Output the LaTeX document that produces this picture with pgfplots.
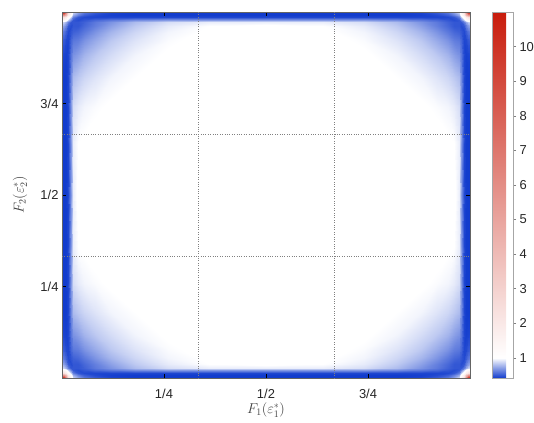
\documentclass[border=0pt]{standalone}
\usepackage{fontspec}
\setmainfont{Liberation Sans}
\usepackage{pgfplots}
\usepackage{pgfplotstable}
\pgfplotsset{compat=1.18}
\definecolor{tickgray}{RGB}{38,38,38}
\definecolor{framegray}{RGB}{100,100,100}
% one quadrant of the (symmetric) density; x, y = distance from the corner, xr = 1-x, yr = 1-y
\pgfplotstableread{
x xr y yr c
0 1 0 1 11
0.004 0.996 0 1 10
0.009 0.991 0 1 6
0.015 0.985 0 1 2.5
0.021 0.979 0 1 1.4
0.028 0.972 0 1 0.9
0.038 0.962 0 1 0.75
0.055 0.945 0 1 0.62
0.08 0.92 0 1 0.52
0.12 0.88 0 1 0.45
0.18 0.82 0 1 0.42
0.26 0.74 0 1 0.42
0.36 0.64 0 1 0.42
0.5 0.5 0 1 0.42

0 1 0.004 0.996 10
0.004 0.996 0.004 0.996 9
0.009 0.991 0.004 0.996 5.5
0.015 0.985 0.004 0.996 2.3
0.021 0.979 0.004 0.996 1.3
0.028 0.972 0.004 0.996 0.85
0.038 0.962 0.004 0.996 0.7
0.055 0.945 0.004 0.996 0.58
0.08 0.92 0.004 0.996 0.5
0.12 0.88 0.004 0.996 0.44
0.18 0.82 0.004 0.996 0.42
0.26 0.74 0.004 0.996 0.42
0.36 0.64 0.004 0.996 0.42
0.5 0.5 0.004 0.996 0.42

0 1 0.009 0.991 6
0.004 0.996 0.009 0.991 5.5
0.009 0.991 0.009 0.991 4
0.015 0.985 0.009 0.991 1.8
0.021 0.979 0.009 0.991 1.1
0.028 0.972 0.009 0.991 0.75
0.038 0.962 0.009 0.991 0.62
0.055 0.945 0.009 0.991 0.52
0.08 0.92 0.009 0.991 0.46
0.12 0.88 0.009 0.991 0.43
0.18 0.82 0.009 0.991 0.42
0.26 0.74 0.009 0.991 0.42
0.36 0.64 0.009 0.991 0.42
0.5 0.5 0.009 0.991 0.42

0 1 0.015 0.985 2.5
0.004 0.996 0.015 0.985 2.3
0.009 0.991 0.015 0.985 1.8
0.015 0.985 0.015 0.985 1.2
0.021 0.979 0.015 0.985 0.85
0.028 0.972 0.015 0.985 0.62
0.038 0.962 0.015 0.985 0.5
0.055 0.945 0.015 0.985 0.46
0.08 0.92 0.015 0.985 0.45
0.12 0.88 0.015 0.985 0.45
0.18 0.82 0.015 0.985 0.45
0.26 0.74 0.015 0.985 0.45
0.36 0.64 0.015 0.985 0.45
0.5 0.5 0.015 0.985 0.45

0 1 0.021 0.979 1.4
0.004 0.996 0.021 0.979 1.3
0.009 0.991 0.021 0.979 1.1
0.015 0.985 0.021 0.979 0.85
0.021 0.979 0.021 0.979 0.62
0.028 0.972 0.021 0.979 0.5
0.038 0.962 0.021 0.979 0.47
0.055 0.945 0.021 0.979 0.5
0.08 0.92 0.021 0.979 0.55
0.12 0.88 0.021 0.979 0.6
0.18 0.82 0.021 0.979 0.66
0.26 0.74 0.021 0.979 0.7
0.36 0.64 0.021 0.979 0.7
0.5 0.5 0.021 0.979 0.7

0 1 0.028 0.972 0.9
0.004 0.996 0.028 0.972 0.85
0.009 0.991 0.028 0.972 0.75
0.015 0.985 0.028 0.972 0.62
0.021 0.979 0.028 0.972 0.5
0.028 0.972 0.028 0.972 0.5
0.038 0.962 0.028 0.972 0.5
0.055 0.945 0.028 0.972 0.53
0.08 0.92 0.028 0.972 0.6
0.12 0.88 0.028 0.972 0.68
0.18 0.82 0.028 0.972 0.8
0.26 0.74 0.028 0.972 0.9
0.36 0.64 0.028 0.972 0.95
0.5 0.5 0.028 0.972 0.95

0 1 0.038 0.962 0.75
0.004 0.996 0.038 0.962 0.7
0.009 0.991 0.038 0.962 0.62
0.015 0.985 0.038 0.962 0.5
0.021 0.979 0.038 0.962 0.47
0.028 0.972 0.038 0.962 0.5
0.038 0.962 0.038 0.962 0.5
0.055 0.945 0.038 0.962 0.55
0.08 0.92 0.038 0.962 0.62
0.12 0.88 0.038 0.962 0.72
0.18 0.82 0.038 0.962 0.84
0.26 0.74 0.038 0.962 0.94
0.36 0.64 0.038 0.962 1.0
0.5 0.5 0.038 0.962 1.02

0 1 0.055 0.945 0.62
0.004 0.996 0.055 0.945 0.58
0.009 0.991 0.055 0.945 0.52
0.015 0.985 0.055 0.945 0.46
0.021 0.979 0.055 0.945 0.5
0.028 0.972 0.055 0.945 0.53
0.038 0.962 0.055 0.945 0.55
0.055 0.945 0.055 0.945 0.6
0.08 0.92 0.055 0.945 0.68
0.12 0.88 0.055 0.945 0.78
0.18 0.82 0.055 0.945 0.88
0.26 0.74 0.055 0.945 0.97
0.36 0.64 0.055 0.945 1.01
0.5 0.5 0.055 0.945 1.02

0 1 0.08 0.92 0.52
0.004 0.996 0.08 0.92 0.5
0.009 0.991 0.08 0.92 0.46
0.015 0.985 0.08 0.92 0.45
0.021 0.979 0.08 0.92 0.55
0.028 0.972 0.08 0.92 0.6
0.038 0.962 0.08 0.92 0.62
0.055 0.945 0.08 0.92 0.68
0.08 0.92 0.08 0.92 0.75
0.12 0.88 0.08 0.92 0.84
0.18 0.82 0.08 0.92 0.92
0.26 0.74 0.08 0.92 0.99
0.36 0.64 0.08 0.92 1.02
0.5 0.5 0.08 0.92 1.02

0 1 0.12 0.88 0.45
0.004 0.996 0.12 0.88 0.44
0.009 0.991 0.12 0.88 0.43
0.015 0.985 0.12 0.88 0.45
0.021 0.979 0.12 0.88 0.6
0.028 0.972 0.12 0.88 0.68
0.038 0.962 0.12 0.88 0.72
0.055 0.945 0.12 0.88 0.78
0.08 0.92 0.12 0.88 0.84
0.12 0.88 0.12 0.88 0.9
0.18 0.82 0.12 0.88 0.97
0.26 0.74 0.12 0.88 1.01
0.36 0.64 0.12 0.88 1.02
0.5 0.5 0.12 0.88 1.02

0 1 0.18 0.82 0.42
0.004 0.996 0.18 0.82 0.42
0.009 0.991 0.18 0.82 0.42
0.015 0.985 0.18 0.82 0.45
0.021 0.979 0.18 0.82 0.66
0.028 0.972 0.18 0.82 0.8
0.038 0.962 0.18 0.82 0.84
0.055 0.945 0.18 0.82 0.88
0.08 0.92 0.18 0.82 0.92
0.12 0.88 0.18 0.82 0.97
0.18 0.82 0.18 0.82 1.0
0.26 0.74 0.18 0.82 1.02
0.36 0.64 0.18 0.82 1.02
0.5 0.5 0.18 0.82 1.02

0 1 0.26 0.74 0.42
0.004 0.996 0.26 0.74 0.42
0.009 0.991 0.26 0.74 0.42
0.015 0.985 0.26 0.74 0.45
0.021 0.979 0.26 0.74 0.7
0.028 0.972 0.26 0.74 0.9
0.038 0.962 0.26 0.74 0.94
0.055 0.945 0.26 0.74 0.97
0.08 0.92 0.26 0.74 0.99
0.12 0.88 0.26 0.74 1.01
0.18 0.82 0.26 0.74 1.02
0.26 0.74 0.26 0.74 1.02
0.36 0.64 0.26 0.74 1.02
0.5 0.5 0.26 0.74 1.02

0 1 0.36 0.64 0.42
0.004 0.996 0.36 0.64 0.42
0.009 0.991 0.36 0.64 0.42
0.015 0.985 0.36 0.64 0.45
0.021 0.979 0.36 0.64 0.7
0.028 0.972 0.36 0.64 0.95
0.038 0.962 0.36 0.64 1.0
0.055 0.945 0.36 0.64 1.01
0.08 0.92 0.36 0.64 1.02
0.12 0.88 0.36 0.64 1.02
0.18 0.82 0.36 0.64 1.02
0.26 0.74 0.36 0.64 1.02
0.36 0.64 0.36 0.64 1.02
0.5 0.5 0.36 0.64 1.02

0 1 0.5 0.5 0.42
0.004 0.996 0.5 0.5 0.42
0.009 0.991 0.5 0.5 0.42
0.015 0.985 0.5 0.5 0.45
0.021 0.979 0.5 0.5 0.7
0.028 0.972 0.5 0.5 0.95
0.038 0.962 0.5 0.5 1.02
0.055 0.945 0.5 0.5 1.02
0.08 0.92 0.5 0.5 1.02
0.12 0.88 0.5 0.5 1.02
0.18 0.82 0.5 0.5 1.02
0.26 0.74 0.5 0.5 1.02
0.36 0.64 0.5 0.5 1.02
0.5 0.5 0.5 0.5 1.02
}\quadrant
\begin{document}
\begin{tikzpicture}
\begin{axis}[
  name=ax,
  scale only axis,
  width=408bp, height=366bp,
  xmin=0, xmax=1, ymin=0, ymax=1,
  axis line style={framegray},
  tick align=inside,
  tick pos=both,
  major tick length=4bp,
  tick style={black, line width=0.5pt},
  xtick={0.25,0.5,0.75}, xticklabels={1/4,1/2,3/4},
  ytick={0.25,0.5,0.75}, yticklabels={1/4,1/2,3/4},
  extra x ticks={0.3333,0.6667}, extra x tick labels={},
  extra y ticks={0.3333,0.6667}, extra y tick labels={},
  extra tick style={grid=major, major tick length=0pt},
  grid style={dotted, gray, line width=0.6pt},
  ticklabel style={font=\fontsize{13}{15}\selectfont, text=tickgray},
  xticklabel style={yshift=-8bp},
  xlabel={$F_1(\varepsilon_1^*)$},
  ylabel={$F_2(\varepsilon_2^*)$},
  label style={font=\fontsize{14}{16}\selectfont, text=black!75},
  xlabel style={at={(axis description cs:0.5,-0.088)}, anchor=center},
  ylabel style={at={(axis description cs:-0.103,0.5)}, anchor=center},
  point meta min=0.42, point meta max=11,
  colormap={bwr}{rgb255(0)=(18,60,205) rgb255(58)=(255,255,255) rgb255(1058)=(200,28,12)},
  colorbar,
  colorbar style={
    at={(parent axis.north east)}, anchor=north west, xshift=13.5bp,
    scale only axis, width=21bp, height=366bp,
    axis line style={gray!70},
    ytick={1,2,3,4,5,6,7,8,9,10},
    yticklabels={1,2,3,4,5,6,7,8,9,10},
    tick align=outside, ytick pos=right,
    major tick length=3bp,
    tick style={gray, line width=0.5pt},
    yticklabel style={font=\fontsize{13}{15}\selectfont, text=tickgray},
  },
  axis on top,
]
\addplot[surf, shader=interp, mesh/cols=14, point meta=\thisrow{c}] table[x=x, y=y] {\quadrant};
\addplot[surf, shader=interp, mesh/cols=14, point meta=\thisrow{c}] table[x=xr, y=y] {\quadrant};
\addplot[surf, shader=interp, mesh/cols=14, point meta=\thisrow{c}] table[x=x, y=yr] {\quadrant};
\addplot[surf, shader=interp, mesh/cols=14, point meta=\thisrow{c}] table[x=xr, y=yr] {\quadrant};
\end{axis}
\pgfresetboundingbox
\path[use as bounding box] ([shift={(-62bp,-45bp)}]ax.south west) rectangle ([shift={(64bp,12bp)}]ax.north east);
\end{tikzpicture}
\end{document}
